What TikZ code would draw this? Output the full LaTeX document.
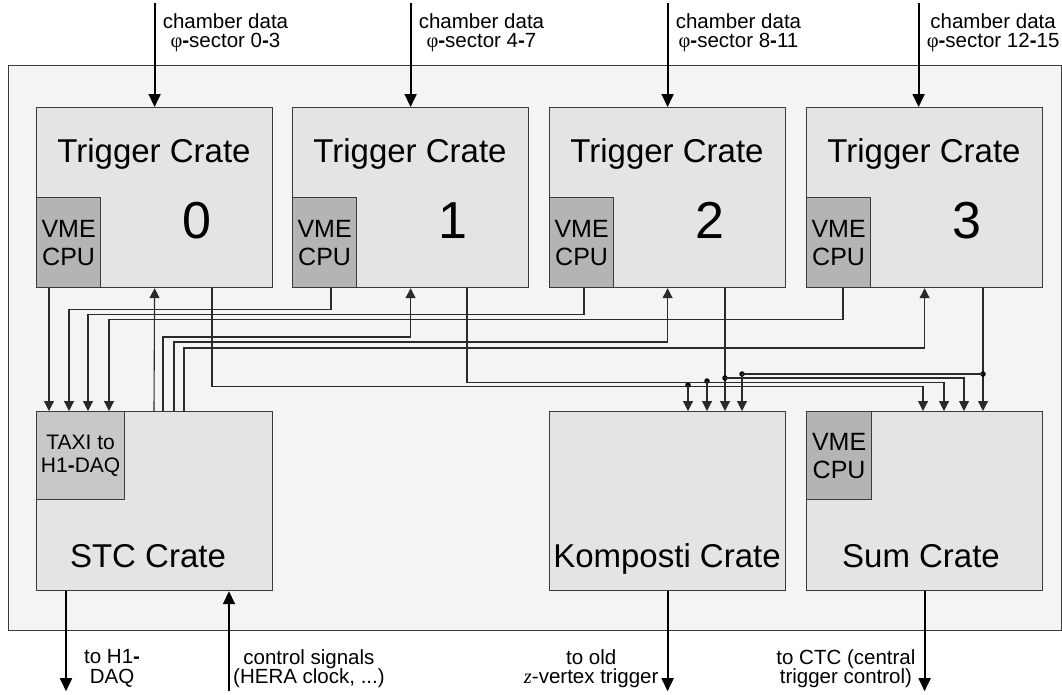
\documentclass[tikz,border=0pt]{standalone}
\usepackage{fontspec}
\setmainfont{Liberation Sans}
\newfontfamily\tms{Liberation Serif}
\usetikzlibrary{arrows.meta}
\definecolor{outerfill}{HTML}{F4F4F4}
\definecolor{cratefill}{HTML}{E4E4E4}
\definecolor{vmefill}{HTML}{B4B4B4}
\definecolor{taxifill}{HTML}{C8C8C8}
\definecolor{edge}{HTML}{3A3A3A}
\definecolor{wirecol}{HTML}{2A2A2A}
\newcommand{\bh}{\textbf{-}}
\tikzset{
  crate/.style={draw=edge, line width=1.2pt, fill=cratefill, minimum width=236pt, minimum height=180pt, anchor=north west, inner sep=0pt},
  vmebox/.style={draw=edge, line width=1.2pt, fill=vmefill, minimum width=64pt, minimum height=90pt, anchor=south west, inner sep=0pt, align=center, font=\fontsize{25}{28}\selectfont},
  bigtitle/.style={font=\fontsize{33}{36}\selectfont, inner sep=0pt, anchor=base},
  digit/.style={font=\fontsize{52}{56}\selectfont, inner sep=0pt, anchor=base},
  lbl/.style={font=\fontsize{20.5}{19.5}\selectfont, inner sep=0pt, align=center},
  wire/.style={draw=wirecol, line width=1.1pt},
  warrow/.style={wire, -{Triangle[width=10pt,length=10pt]}},
  bigarrow/.style={draw=black, line width=1.8pt, -{Triangle[width=12pt,length=13pt]}},
  junction/.style={circle, fill=black, inner sep=0pt, minimum size=5.5pt}
}
\begin{document}
\begin{tikzpicture}[x=1pt,y=-1pt]
\useasboundingbox (0,0) rectangle (1062,694);
% outer frame
\node[draw=edge, line width=1.3pt, fill=outerfill, minimum width=1053pt, minimum height=565pt, anchor=north west, inner sep=0pt] (frame) at (8,65) {};

% trigger crates
\foreach \i/\xx in {0/36,1/292,2/549,3/806}{
  \node[crate] (tc\i) at (\xx,107) {};
  \node[vmebox] (vme\i) at (tc\i.south west) {VME\\CPU};
  \node[bigtitle] (tt\i) at ([xshift=118pt, yshift=-55pt]tc\i.north west) {Trigger Crate};
  \node[digit] (td\i) at ([xshift=161pt, yshift=-131pt]tc\i.north west) {\i};
}

% bottom crates
\node[crate, minimum height=179pt] (stc) at (36,411) {};
\node[draw=edge, line width=1.2pt, fill=taxifill, minimum width=88pt, minimum height=88pt, anchor=north west, inner sep=0pt, align=center, font=\fontsize{21}{23}\selectfont] (taxi) at (stc.north west) {TAXI to\\H1\bh DAQ};
\node[bigtitle] (stct) at ([xshift=112pt, yshift=24pt]stc.south west) {STC Crate};

\node[crate, minimum height=179pt] (komp) at (549,411) {};
\node[bigtitle] (kompt) at ([xshift=118pt, yshift=24pt]komp.south west) {Komposti Crate};

\node[crate, minimum height=179pt] (sum) at (806,411) {};
\node[draw=edge, line width=1.2pt, fill=vmefill, minimum width=65pt, minimum height=88pt, anchor=north west, inner sep=0pt, align=center, font=\fontsize{25}{28}\selectfont] (vmes) at (sum.north west) {VME\\CPU};
\node[bigtitle] (sumt) at ([xshift=115pt, yshift=24pt]sum.south west) {Sum Crate};

% top inputs
\foreach \i/\lo/\hi/\dx in {0/0/3/0,1/4/7/0,2/8/11/0,3/12/15/-6}{
  \coordinate (in\i) at ([xshift=\dx pt, yshift=104pt]tc\i.north);
  \draw[bigarrow] (in\i) -- (in\i |- tc\i.north);
  \node[lbl, anchor=north west] (lab\i) at ([xshift=8pt, yshift=-10pt]in\i) {chamber data\\{\tms φ}\bh sector \lo\bh\hi};
}

% VME -> STC
\draw[warrow] ([xshift=13pt]tc0.south west) -- ([xshift=13pt]stc.north west);
\draw[warrow] ([xshift=39pt]tc1.south west) -- ++(0,21) -| ([xshift=33pt]stc.north west);
\draw[warrow] ([xshift=35pt]tc2.south west) -- ++(0,26) -| ([xshift=52pt]stc.north west);
\draw[warrow] ([xshift=37pt]tc3.south west) -- ++(0,31) -| ([xshift=73pt]stc.north west);

% STC -> crates
\draw[warrow] ([xshift=118pt]stc.north west) -- (tc0.south);
\draw[warrow] ([xshift=127pt]stc.north west) -- ++(0,-74) -| (tc1.south);
\draw[warrow] ([xshift=138pt]stc.north west) -- ++(0,-69) -| (tc2.south);
\draw[warrow] ([xshift=148pt]stc.north west) -- ++(0,-63) -| (tc3.south);

% crates -> Komposti / Sum
\draw[warrow] ([xshift=176pt]tc0.south west) -- ++(0,98) -| ([xshift=117pt]sum.north west);
\node[junction] (j0) at ([xshift=139pt, yshift=26pt]komp.north west) {};
\draw[warrow] (j0.center) -- ([xshift=139pt]komp.north west);

\draw[warrow] ([xshift=175pt]tc1.south west) -- ++(0,94) -| ([xshift=138pt]sum.north west);
\node[junction] (j1) at ([xshift=158pt, yshift=30pt]komp.north west) {};
\draw[warrow] (j1.center) -- ([xshift=158pt]komp.north west);

\draw[warrow] ([xshift=176pt]tc2.south west) -- ([xshift=176pt]komp.north west);
\node[junction] (j2) at ([xshift=176pt, yshift=33pt]komp.north west) {};
\draw[warrow] (j2.center) -| ([xshift=158pt]sum.north west);

\draw[warrow] ([xshift=177pt]tc3.south west) -- ([xshift=177pt]sum.north west);
\node[junction] (j3) at ([xshift=177pt, yshift=37pt]sum.north west) {};
\node[junction] (j4) at ([xshift=193pt, yshift=37pt]komp.north west) {};
\draw[wire] (j3.center) -- (j4.center);
\draw[warrow] (j4.center) -- ([xshift=193pt]komp.north west);

% bottom connections
\coordinate (o0) at ([xshift=30pt, yshift=-100pt]stc.south west);
\draw[bigarrow] ([xshift=30pt]stc.south west) -- (o0);
\node[lbl, anchor=north west] (ol0) at ([xshift=18pt, yshift=42pt]o0) {to H1\bh\\DAQ};

\coordinate (c0) at ([xshift=193pt, yshift=-100pt]stc.south west);
\draw[bigarrow] (c0) -- ([xshift=193pt]stc.south west);
\node[lbl, anchor=north west] (cl0) at ([xshift=4pt, yshift=42pt]c0) {control signals\\(HERA clock, ...)};

\coordinate (o1) at ([yshift=-100pt]komp.south);
\draw[bigarrow] (komp.south) -- (o1);
\node[lbl, anchor=north east] (ol1) at ([xshift=-9pt, yshift=42pt]o1) {to old\\{\tms\itshape z}-vertex trigger};

\coordinate (o2) at ([yshift=-100pt]sum.south);
\draw[bigarrow] (sum.south) -- (o2);
\node[lbl, anchor=north east] (ol2) at ([xshift=-9pt, yshift=42pt]o2) {to CTC (central\\trigger control)};
\end{tikzpicture}
\end{document}
